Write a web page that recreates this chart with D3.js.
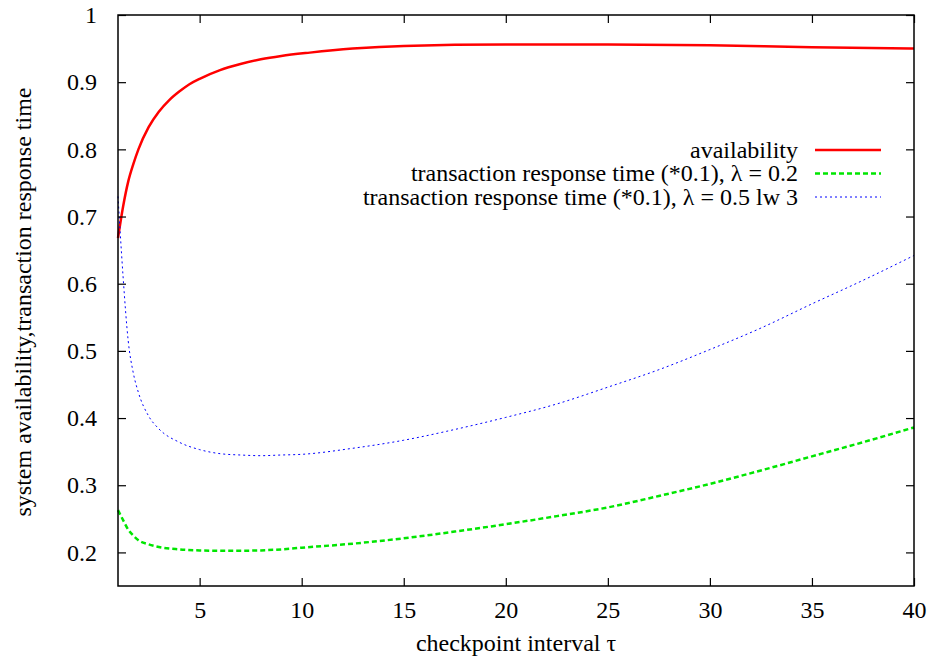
<!DOCTYPE html>
<html>
<head>
<meta charset="utf-8">
<script src="https://cdn.jsdelivr.net/npm/d3@7"></script>
<style>
  html, body { margin: 0; padding: 0; background: #fff; }
  svg text { font-family: "Liberation Serif", "Times New Roman", serif; fill: #000; }
</style>
</head>
<body>
<svg id="chart" width="931" height="662"></svg>
<script>
// checkpoint interval tau vs. availability and scaled response time
const availX = [1, 1.25, 1.5, 1.75, 2, 2.5, 3, 3.5, 4, 4.5, 5, 6, 7, 8, 9, 10.4, 12.5, 15, 20, 25, 30, 35, 40];
const availY = [0.668, 0.715, 0.752, 0.778, 0.800, 0.833, 0.856, 0.873, 0.886, 0.897, 0.905, 0.918, 0.927, 0.934, 0.939, 0.944, 0.950, 0.954, 0.956, 0.956, 0.955, 0.952, 0.950];

const resp02X = [1, 1.25, 1.5, 1.75, 2, 2.5, 3, 4, 5, 6, 7, 8, 9, 10, 12.5, 15, 17.5, 20, 22.5, 25, 27.5, 30, 32.5, 35, 37.5, 40];
const resp02Y = [0.263, 0.248, 0.234, 0.225, 0.218, 0.212, 0.208, 0.2045, 0.203, 0.2025, 0.2025, 0.203, 0.2045, 0.207, 0.213, 0.221, 0.231, 0.242, 0.254, 0.267, 0.284, 0.302, 0.322, 0.343, 0.364, 0.386];

const resp05X = [1, 1.1, 1.25, 1.5, 1.75, 2, 2.5, 3, 4, 5, 6, 7, 8, 9, 10, 12.5, 15, 17.5, 20, 22.5, 25, 27.5, 30, 32.5, 35, 37.5, 40];
const resp05Y = [0.73, 0.68, 0.61, 0.515, 0.467, 0.438, 0.403, 0.384, 0.364, 0.353, 0.347, 0.345, 0.344, 0.345, 0.346, 0.355, 0.367, 0.383, 0.401, 0.421, 0.446, 0.472, 0.502, 0.534, 0.570, 0.605, 0.642];

const xTicks = [5, 10, 15, 20, 25, 30, 35, 40];
const yTicks = [0.2, 0.3, 0.4, 0.5, 0.6, 0.7, 0.8, 0.9, 1];

const legendLabels = [
  "availability",
  "transaction response time (*0.1), \u03bb = 0.2",
  "transaction response time (*0.1), \u03bb = 0.5 lw 3"
];

const svg = d3.select("#chart");
const plotL = 118, plotR = 914, plotT = 15, plotB = 586;
const fontSize = 24;

const x = d3.scaleLinear().domain([1, 40]).range([plotL, plotR]);
const y = d3.scaleLinear().domain([0.15, 1]).range([plotB, plotT]);

const series = [
  { xs: availX, ys: availY, color: "#ff0000", width: 2.5, dash: null },
  { xs: resp02X, ys: resp02Y, color: "#00e600", width: 2.5, dash: "5,3" },
  { xs: resp05X, ys: resp05Y, color: "#0000ff", width: 1, dash: "2,3" }
];

const line = d3.line().x(d => x(d[0])).y(d => y(d[1])).curve(d3.curveMonotoneX);

const plot = svg.append("g");
series.forEach(s => {
  plot.append("path")
    .datum(s.xs.map((v, i) => [v, s.ys[i]]))
    .attr("d", line)
    .attr("fill", "none")
    .attr("stroke", s.color)
    .attr("stroke-width", s.width)
    .attr("stroke-dasharray", s.dash);
});

// axes with inward ticks, mirrored on all four sides
const tickLen = 8;
const fmtY = d => (d === 1 ? "1" : d3.format(".1f")(d));

const xb = svg.append("g").attr("transform", `translate(0,${plotB})`)
  .call(d3.axisBottom(x).tickValues(xTicks).tickSizeInner(-tickLen).tickSizeOuter(0).tickPadding(15));
const xt = svg.append("g").attr("transform", `translate(0,${plotT})`)
  .call(d3.axisTop(x).tickValues(xTicks).tickSizeInner(-tickLen).tickSizeOuter(0).tickFormat(""));
const yl = svg.append("g").attr("transform", `translate(${plotL},0)`)
  .call(d3.axisLeft(y).tickValues(yTicks).tickSizeInner(-tickLen).tickSizeOuter(0).tickFormat(fmtY).tickPadding(21));
const yr = svg.append("g").attr("transform", `translate(${plotR},0)`)
  .call(d3.axisRight(y).tickValues(yTicks).tickSizeInner(-tickLen).tickSizeOuter(0).tickFormat(""));

[xb, xt, yl, yr].forEach(g => {
  g.select(".domain").remove();
  g.selectAll(".tick line").attr("stroke", "#000").attr("stroke-width", 1.2);
  g.selectAll("text").attr("font-size", fontSize).attr("fill", "#000");
});

svg.append("rect")
  .attr("x", plotL).attr("y", plotT)
  .attr("width", plotR - plotL).attr("height", plotB - plotT)
  .attr("fill", "none").attr("stroke", "#000").attr("stroke-width", 1.5);

// axis titles
svg.append("text")
  .attr("x", (plotL + plotR) / 2).attr("y", 651)
  .attr("text-anchor", "middle").attr("font-size", fontSize)
  .text("checkpoint interval \u03c4");

svg.append("text")
  .attr("transform", `translate(31,302) rotate(-90)`)
  .attr("text-anchor", "middle").attr("font-size", fontSize)
  .text("system availability,transaction response time");

// legend
const legY = [150, 173.5, 197];
const leg = svg.append("g");
series.forEach((s, i) => {
  leg.append("text")
    .attr("x", 798).attr("y", legY[i] + 7.5)
    .attr("text-anchor", "end").attr("font-size", fontSize)
    .text(legendLabels[i]);
  leg.append("line")
    .attr("x1", 815).attr("x2", 881)
    .attr("y1", legY[i]).attr("y2", legY[i])
    .attr("stroke", s.color).attr("stroke-width", s.width)
    .attr("stroke-dasharray", s.dash);
});
</script>
</body>
</html>
